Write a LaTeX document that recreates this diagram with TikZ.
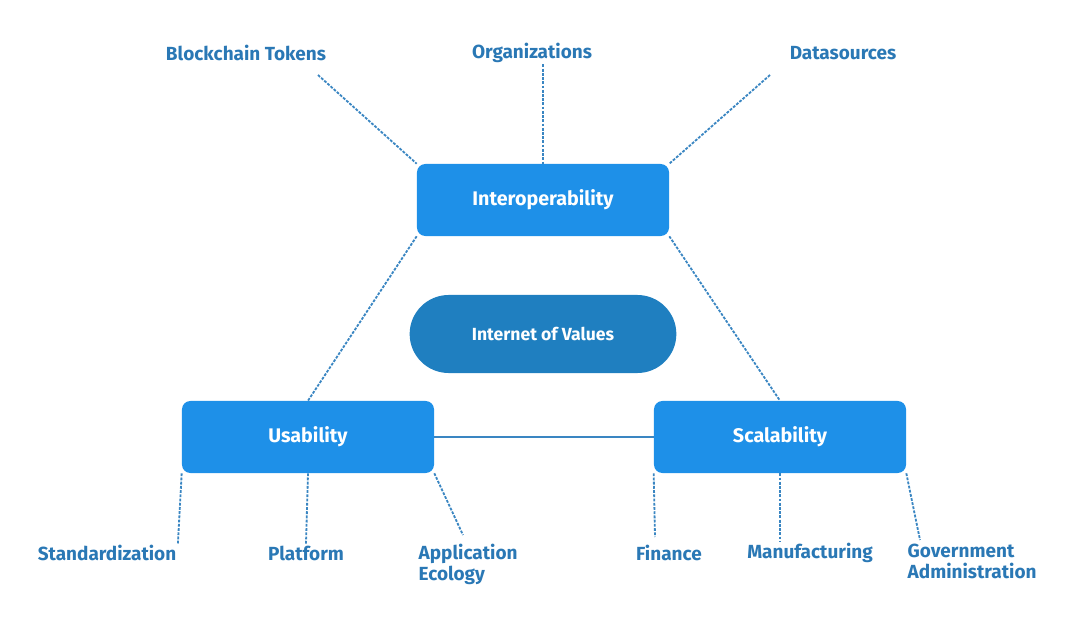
\documentclass[tikz,border=0pt]{standalone}
\usepackage{fontspec}
\setmainfont{Fira Sans}
\usepackage{tikz}
\usetikzlibrary{positioning,shapes.misc}

\definecolor{boxblue}{HTML}{1E90E8}
\definecolor{darkblue}{HTML}{1F7FC0}
\definecolor{textblue}{HTML}{2A78B5}
\definecolor{lineblue}{HTML}{3A86C2}

\begin{document}
\begin{tikzpicture}[x=0.025cm, y=-0.025cm,
  pillar/.style={draw=none, fill=boxblue, rounded corners=6pt, minimum width=6.3cm,
                 minimum height=1.8cm, text=white, font=\fontsize{14}{16}\selectfont\bfseries},
  core/.style={rounded rectangle, fill=darkblue, minimum width=6.9cm, minimum height=1.95cm,
               text=white, font=\fontsize{12.5}{15}\selectfont\bfseries},
  tag/.style={text=textblue, font=\fontsize{13.5}{15}\selectfont\bfseries, inner sep=1pt},
  link/.style={lineblue, dashed, dash pattern=on 2pt off 1pt, line width=1.3pt},
]
  \useasboundingbox (0,0) rectangle (1080,624);

  % --- central boxes ---
  \node[pillar] (interop) at (543,200) {Interoperability};
  \node[core]   (iov)     at (543,334) {Internet of Values};
  \node[pillar] (usab)    at (308,437) {Usability};
  \node[pillar] (scal)    at (780,437) {Scalability};

  % --- top labels ---
  \node[tag] (tokens) at (246,53) {Blockchain Tokens};
  \node[tag] (orgs)   at (532,53) {Organizations};
  \node[tag] (data)   at (843,53) {Datasources};

  % --- bottom labels ---
  \node[tag] (std)  at (107,553) {Standardization};
  \node[tag] (plat) at (306,553) {Platform};
  \node[tag, align=left, anchor=north west] (eco) at (417,542) {Application\\Ecology};
  \node[tag] (fin)  at (669,553) {Finance};
  \node[tag] (manu) at (810,553) {Manufacturing};
  \node[tag, align=left, anchor=north west] (gov) at (906,542) {Government\\Administration};

  % --- connectors ---
  \draw[link] (318,75) -- (interop.north west);
  \draw[link] (orgs.south -| interop.north) -- (interop.north);
  \draw[link] (770,75) -- (interop.north east);
  \draw[link] (interop.south west) -- (usab.north);
  \draw[link] (interop.south east) -- (scal.north);
  \draw[lineblue, line width=1.3pt] (usab.east) -- (scal.west);

  \draw[link] (usab.south west) -- (std.north east);
  \draw[link] (usab.south) -- (plat.north);
  \draw[link] (usab.south east) -- (463,535);
  \draw[link] (scal.south west) -- (655,537);
  \draw[link] (scal.south) -- (manu.north -| scal.south);
  \draw[link] (scal.south east) -- (920,540);
\end{tikzpicture}
\end{document}
